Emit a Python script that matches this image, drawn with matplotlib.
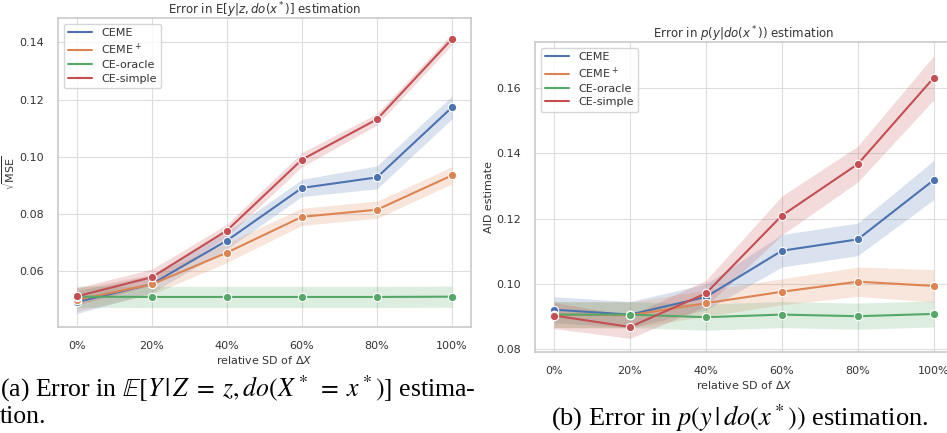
import matplotlib
matplotlib.use("Agg")
import matplotlib.pyplot as plt
from matplotlib.lines import Line2D
import seaborn as sns
import numpy as np

sns.set_theme(style="whitegrid")
plt.rcParams['font.family'] = ['DejaVu Sans']

x_labels = ["0%", "20%", "40%", "60%", "80%", "100%"]
series = ["CEME", "CEME$^+$", "CE-oracle", "CE-simple"]
colors = ["#4C72B0", "#DD8452", "#55A868", "#C44E52"]

# Left: sqrt(MSE)
left_mean = {
    "CEME":      [0.0492, 0.0555, 0.0707, 0.0891, 0.0928, 0.1173],
    "CEME$^+$":  [0.0500, 0.0554, 0.0665, 0.0790, 0.0815, 0.0935],
    "CE-oracle": [0.0511, 0.0510, 0.0510, 0.0510, 0.0510, 0.0511],
    "CE-simple": [0.0512, 0.0579, 0.0742, 0.0990, 0.1131, 0.1412],
}
left_err = {
    "CEME":      [0.0040, 0.0030, 0.0030, 0.0030, 0.0040, 0.0040],
    "CEME$^+$":  [0.0040, 0.0035, 0.0035, 0.0030, 0.0030, 0.0030],
    "CE-oracle": [0.0037, 0.0037, 0.0037, 0.0037, 0.0037, 0.0037],
    "CE-simple": [0.0030, 0.0028, 0.0022, 0.0025, 0.0020, 0.0020],
}
# Right: AID estimate
right_mean = {
    "CEME":      [0.0920, 0.0905, 0.0959, 0.1101, 0.1136, 0.1318],
    "CEME$^+$":  [0.0905, 0.0903, 0.0940, 0.0975, 0.1006, 0.0993],
    "CE-oracle": [0.0905, 0.0905, 0.0897, 0.0905, 0.0900, 0.0907],
    "CE-simple": [0.0902, 0.0867, 0.0970, 0.1209, 0.1367, 0.1632],
}
right_err = {
    "CEME":      [0.0040, 0.0040, 0.0040, 0.0050, 0.0050, 0.0060],
    "CEME$^+$":  [0.0040, 0.0040, 0.0040, 0.0040, 0.0045, 0.0050],
    "CE-oracle": [0.0040, 0.0040, 0.0040, 0.0040, 0.0040, 0.0040],
    "CE-simple": [0.0040, 0.0035, 0.0040, 0.0060, 0.0055, 0.0068],
}

fig = plt.figure(figsize=(9.47, 4.33), dpi=100)
ax1 = fig.add_axes([0.0612, 0.2448, 0.436, 0.713])
ax2 = fig.add_axes([0.565, 0.187, 0.441, 0.716])

def draw(ax, means, errs, title, ylabel, ylim, yticks):
    xs = np.arange(len(x_labels))
    handles = []
    for name, c in zip(series, colors):
        m = np.array(means[name]); e = np.array(errs[name])
        ax.fill_between(xs, m - e, m + e, color=c, alpha=0.2, linewidth=0)
        ax.plot(xs, m, color=c, lw=1.5, marker='o', markersize=6,
                markeredgecolor='white', markeredgewidth=0.8)
        handles.append(Line2D([], [], color=c, lw=1.5, label=name))
    ax.set_xlim(-0.25, 5.25)
    ax.set_ylim(*ylim)
    ax.set_yticks(yticks)
    ax.set_yticklabels([f"{v:.2f}" for v in yticks])
    ax.set_xticks(xs)
    ax.set_xticklabels(x_labels)
    ax.tick_params(labelsize=8, colors='#333333', pad=4)
    ax.set_xlabel(r"relative SD of $\Delta X$", fontsize=8, color='#333333', labelpad=2)
    ax.set_ylabel(ylabel, fontsize=8, color='#333333', labelpad=2)
    ax.set_title(title, fontsize=8.5, color='#333333', pad=3)
    for s in ax.spines.values():
        s.set_color('#cccccc')
    ax.grid(color='#dddddd', lw=0.8)
    leg = ax.legend(handles=handles, loc='upper left', fontsize=8, frameon=True,
                    handlelength=2.2, borderpad=0.4, labelspacing=0.3)
    for t in leg.get_texts():
        t.set_color('#333333')

draw(ax1, left_mean, left_err, r"Error in E$[y|z, do(x^*)]$ estimation",
     r"$\sqrt{\mathrm{MSE}}$", (0.0405, 0.1484), [0.06, 0.08, 0.10, 0.12, 0.14])
draw(ax2, right_mean, right_err, r"Error in $p(y|do(x^*))$ estimation",
     "AID estimate", (0.0790, 0.1742), [0.08, 0.10, 0.12, 0.14, 0.16])

cap_kw = dict(fontsize=18.5, family='Liberation Serif', color='black',
              math_fontfamily='stix')
fig.text(0.0, 0.1016,
         r"(a) Error in $\mathbb{E}[Y\,|\,Z\;=\;z, do(X^*\;=\;x^*)]$ estima-",
         ha='left', va='center', **cap_kw)
fig.text(0.0, 0.037, "tion.", ha='left', va='center', **cap_kw)
fig.text(0.781, 0.035, r"(b) Error in $p(y\,|\,do(x^*))$ estimation.",
         ha='center', va='center', **dict(cap_kw, fontsize=19))

fig.savefig("out.png", dpi=100)
